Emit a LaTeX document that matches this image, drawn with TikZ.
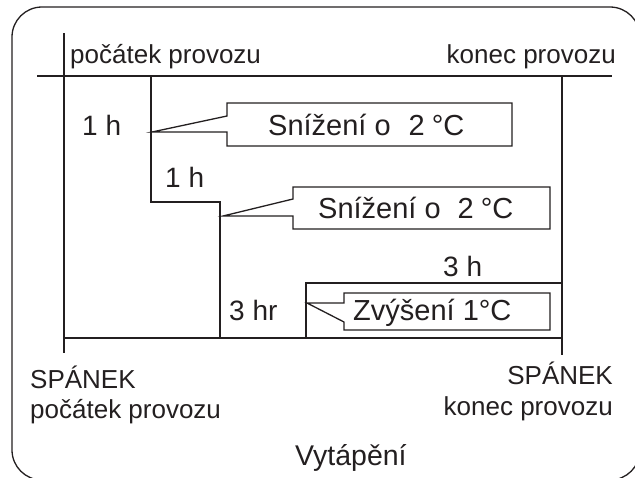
\documentclass[tikz,border=0pt]{standalone}
\usepackage{fontspec}
\setmainfont{Liberation Sans}
\definecolor{ink}{HTML}{231F20}
\begin{document}
\begin{tikzpicture}[x=1pt,y=-1pt,
  thin line/.style={draw=ink,line width=1.3pt},
  thick line/.style={draw=ink,line width=2.2pt,line join=miter},
  callout/.style={draw=ink,line width=1.3pt,fill=white,line join=miter},
  lbl/.style={inner sep=0pt,text=ink,font=\fontsize{26}{31}\selectfont},
  hlbl/.style={inner sep=0pt,text=ink,font=\fontsize{28}{33}\selectfont},
  ctext/.style={inner sep=0pt,text=ink,font=\fontsize{29}{34}\selectfont},
  biglbl/.style={inner sep=0pt,text=ink,font=\fontsize{28.5}{34}\selectfont}]
\useasboundingbox (0,0) rectangle (635,477);
% outer frame (clipped by the page)
\begin{scope}
\clip (0,0) rectangle (635,477);
\draw[thin line,rounded corners=30pt] (12,7) rectangle (640,480);
\end{scope}
% axes
\coordinate (tl) at (37,76);
\coordinate (tr) at (612,76);
\coordinate (lv1) at (64,33);
\coordinate (lv2) at (64,353);
\coordinate (rv1) at (562,76);
\coordinate (rv2) at (562,355);
\coordinate (bl) at (64,338);
\coordinate (br) at (563,338);
\draw[thin line] (tl) -- (tr);
\draw[thin line] (lv1) -- (lv2);
\draw[thin line] (rv1) -- (rv2);
\draw[thin line] (bl) -- (br);
% step profile
\coordinate (s0) at (151,75);
\coordinate (s1) at (151,202);
\coordinate (s2) at (220,202);
\coordinate (s3) at (220,338);
\coordinate (s4) at (306,338);
\coordinate (s5) at (306,283);
\coordinate (s6) at (562,283);
\draw[thick line] (s0) -- (s1) -- (s2) -- (s3) -- (s4) -- (s5) -- (s6);
% callouts
\coordinate (t1) at (152,132);
\coordinate (t2) at (223,216);
\coordinate (t3) at (307,303);
\draw[callout] (227,103) -- (512,103) -- (512,146) -- (227,146) -- (227,132) -- (t1) -- (227,116) -- cycle;
\draw[callout] (293,187) -- (550,187) -- (550,229) -- (293,229) -- (293,216) -- (t2) -- (293,199) -- cycle;
\draw[callout] (344,293) -- (550,293) -- (550,330) -- (344,330) -- (344,322) -- (t3) -- (344,303) -- cycle;
% labels
\node[lbl,anchor=base west] (start) at (70,63) {počátek provozu};
\node[lbl,anchor=base east] (end) at (616,63) {konec provozu};
\node[hlbl,anchor=base west] (h1) at (82,135) {1 h};
\node[hlbl,anchor=base west] (h2) at (165,187) {1 h};
\node[ctext,anchor=base west] (c1) at (268,135) {Snížení o\hspace{18pt}2\hspace{7pt}°C};
\node[ctext,anchor=base west] (c2) at (318,218) {Snížení o\hspace{17pt}2\hspace{7pt}°C};
\node[hlbl,anchor=base west] (h3) at (443,276) {3 h};
\node[hlbl,anchor=base west] (hr) at (229,320) {3 hr};
\node[ctext,anchor=base west] (c3) at (353,320) {Zvýšení 1°C};
\node[lbl,anchor=base west] (sl1) at (30,388) {SPÁNEK};
\node[lbl,anchor=base west] (sl2) at (30,418) {počátek provozu};
\node[lbl,anchor=base east] (sr1) at (613,384) {SPÁNEK};
\node[lbl,anchor=base east] (sr2) at (613,415) {konec provozu};
\node[biglbl,anchor=base west] (title) at (295,465) {Vytápění};
\end{tikzpicture}
\end{document}
